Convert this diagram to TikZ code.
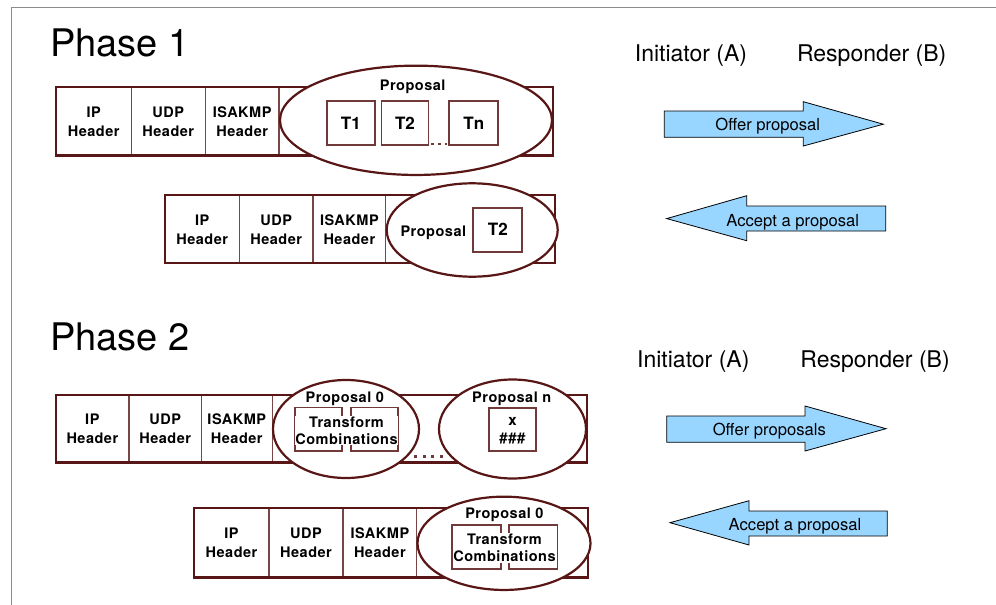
\documentclass[tikz,border=0pt]{standalone}
\usepackage{fontspec}
\setmainfont{TeX Gyre Heros}
\newfontfamily\tagfont[LetterSpace=3.5]{TeX Gyre Heros}
\usetikzlibrary{shapes.geometric,calc}

\definecolor{maroon}{RGB}{88,22,22}
\definecolor{divcol}{RGB}{120,70,70}
\definecolor{tbox}{RGB}{112,58,58}
\definecolor{arrowblue}{RGB}{153,214,255}
\definecolor{framegray}{RGB}{140,140,140}

\tikzset{
  rowframe/.style={draw=maroon, line width=2.2pt, inner sep=0pt},
  cell/.style={draw=divcol, line width=1.2pt, inner sep=0pt, align=center,
    font=\tagfont\fontsize{14.5}{19}\selectfont\bfseries},
  propell/.style={ellipse, draw=maroon, line width=2.2pt, fill=white, inner sep=0pt},
  tfbox/.style={draw=tbox, line width=1.8pt, fill=white, inner sep=0pt},
  lbl/.style={inner sep=0pt, font=\tagfont\fontsize{14.5}{17.4}\selectfont\bfseries},
  tlbl/.style={inner sep=0pt, font=\fontsize{17}{20}\selectfont\bfseries},
  combo/.style={fill=white, inner sep=0.8pt, align=center,
    font=\tagfont\fontsize{14.5}{17.4}\selectfont\bfseries},
  phase/.style={inner sep=0pt, anchor=base west, font=\fontsize{38}{44}\selectfont},
  party/.style={inner sep=0pt, anchor=base, font=\fontsize{23}{27}\selectfont},
  flowarrow/.style={fill=arrowblue, draw=black, line width=0.8pt, line join=miter},
  flowtext/.style={inner sep=0pt, anchor=base, font=\fontsize{16.6}{20}\selectfont},
  dotmark/.style={fill=tbox, draw=none}
}

\begin{document}
\begin{tikzpicture}[x=1pt,y=-1pt]
\useasboundingbox (0,0) rectangle (996,605);

% page frame
\draw[framegray, line width=1pt] (11,605) -- (11,7) -- (996,7);

% ---------------- Phase 1 ----------------
\node[phase] (ph1) at (50,56) {Phase 1};
\node[party] (ini1) at (691,61.7) {Initiator (A)};
\node[party] (res1) at (871.7,61.7) {Responder (B)};

% offer packet
\node[cell, minimum width=75.3, minimum height=68.2] (a1ip)  at (93.65,121.4) {IP\\Header};
\node[cell, minimum width=74,   minimum height=68.2] (a1udp) at (168.3,121.4) {UDP\\Header};
\node[cell, minimum width=73.7, minimum height=68.2] (a1isa) at (242.15,121.4) {ISAKMP\\Header};
\node[rowframe, minimum width=496.7, minimum height=68.2] (a1row) at (304.35,121.4) {};
\node[propell, minimum width=272, minimum height=109.3] (a1ell) at (416,120.3) {};
\node[lbl, anchor=base] (a1prop) at (412.7,90.5) {Proposal};
\node[tfbox, minimum width=48, minimum height=44] (a1t1) at (350.8,123) {};
\node[tfbox, minimum width=47, minimum height=44] (a1t2) at (405,123) {};
\node[tfbox, minimum width=49, minimum height=44] (a1tn) at (473.8,123) {};
\node[tlbl] (a1t1l) at (a1t1) {T1};
\node[tlbl] (a1t2l) at (a1t2) {T2};
\node[tlbl] (a1tnl) at (a1tn) {Tn};
\foreach \dx in {432.5,439.3,446.1}
  \fill[dotmark] (\dx-1.2,142.8) rectangle (\dx+1.2,145.2);

% accepting packet
\node[cell, minimum width=74.3, minimum height=68] (b1ip)  at (202.15,229.3) {IP\\Header};
\node[cell, minimum width=73.7, minimum height=68] (b1udp) at (276.15,229.3) {UDP\\Header};
\node[cell, minimum width=72.7, minimum height=68] (b1isa) at (349.35,229.3) {ISAKMP\\Header};
\node[rowframe, minimum width=390, minimum height=68] (b1row) at (360,229.3) {};
\node[propell, minimum width=171, minimum height=93.4] (b1ell) at (472.2,230) {};
\node[lbl, anchor=base] (b1prop) at (433.3,236.9) {Proposal};
\node[tfbox, minimum width=49, minimum height=44] (b1t2) at (497.8,229.7) {};
\node[tlbl] (b1t2l) at (b1t2) {T2};

% exchange arrows
\draw[flowarrow] (664.3,111) -- (803.3,111) -- (803.3,101.7) -- (883.3,124.2)
  -- (803.3,146) -- (803.3,137.3) -- (664.3,137.3) -- cycle;
\node[flowtext] (off1) at (767.7,130.2) {Offer proposal};
\draw[flowarrow] (885.7,206) -- (746.7,206) -- (746.7,195.7) -- (666.7,218.6)
  -- (746.7,240.7) -- (746.7,231) -- (885.7,231) -- cycle;
\node[flowtext] (acc1) at (792.7,226.7) {Accept a proposal};

% ---------------- Phase 2 ----------------
\node[phase] (ph2) at (50,350.5) {Phase 2};
\node[party] (ini2) at (693.3,367.3) {Initiator (A)};
\node[party] (res2) at (875,367.3) {Responder (B)};

% offer packet
\node[cell, minimum width=73.3, minimum height=67.5] (a2ip)  at (92.35,428.75) {IP\\Header};
\node[cell, minimum width=72.3, minimum height=67.5] (a2udp) at (165.15,428.75) {UDP\\Header};
\node[cell, minimum width=71,   minimum height=67.5] (a2isa) at (236.8,428.75) {ISAKMP\\Header};
\node[rowframe, minimum width=531.3, minimum height=67.5] (a2row) at (321.35,428.75) {};
\node[propell, minimum width=146, minimum height=98] (a2ell0) at (346,429) {};
\node[propell, minimum width=147, minimum height=99] (a2elln) at (512.5,429) {};
\node[lbl, anchor=base] (a2p0) at (344.8,402.5) {Proposal 0};
\node[lbl, anchor=base] (a2pn) at (511.7,402.5) {Proposal n};
\node[tfbox, minimum width=47.2, minimum height=43.5] (a2tl) at (318.2,429.25) {};
\node[tfbox, minimum width=47.2, minimum height=43.5] (a2tr) at (374.6,429.25) {};
\node[combo] (a2tc) at (346.5,430.6) {Transform\\Combinations};
\node[tfbox, minimum width=47, minimum height=42.4] (a2x) at (512.5,429.5) {};
\node[inner sep=0pt, align=center, font=\tagfont\fontsize{15}{18}\selectfont\bfseries] (a2xl) at (512.5,431) {x\\\#\#\#};
\foreach \dx in {415.5,424,432.5,441}
  \fill[dotmark] (\dx-1.5,454.5) rectangle (\dx+1.5,457.5);

% accepting packet
\node[cell, minimum width=75,   minimum height=69.2] (b2ip)  at (231.5,542.9) {IP\\Header};
\node[cell, minimum width=74,   minimum height=69.2] (b2udp) at (306,542.9) {UDP\\Header};
\node[cell, minimum width=73.7, minimum height=69.2] (b2isa) at (379.85,542.9) {ISAKMP\\Header};
\node[rowframe, minimum width=393.6, minimum height=69.2] (b2row) at (390.8,542.9) {};
\node[propell, minimum width=173, minimum height=93.3] (b2ell) at (504,543.3) {};
\node[lbl, anchor=base] (b2p0) at (504.4,518.5) {Proposal 0};
\node[tfbox, minimum width=48.9, minimum height=43.7] (b2tl) at (476.15,546.85) {};
\node[tfbox, minimum width=48.2, minimum height=43.7] (b2tr) at (533.3,546.85) {};
\node[combo] (b2tc) at (504.5,548) {Transform\\Combinations};

% exchange arrows
\draw[flowarrow] (666.7,416) -- (805,416) -- (805,406) -- (886,428.7)
  -- (805,451) -- (805,442.3) -- (666.7,442.3) -- cycle;
\node[flowtext] (off2) at (769.3,435) {Offer proposals};
\draw[flowarrow] (887.3,511) -- (749,511) -- (749,500.7) -- (670,522.7)
  -- (749,545) -- (749,536) -- (887.3,536) -- cycle;
\node[flowtext] (acc2) at (795,530.7) {Accept a proposal};

\end{tikzpicture}
\end{document}
